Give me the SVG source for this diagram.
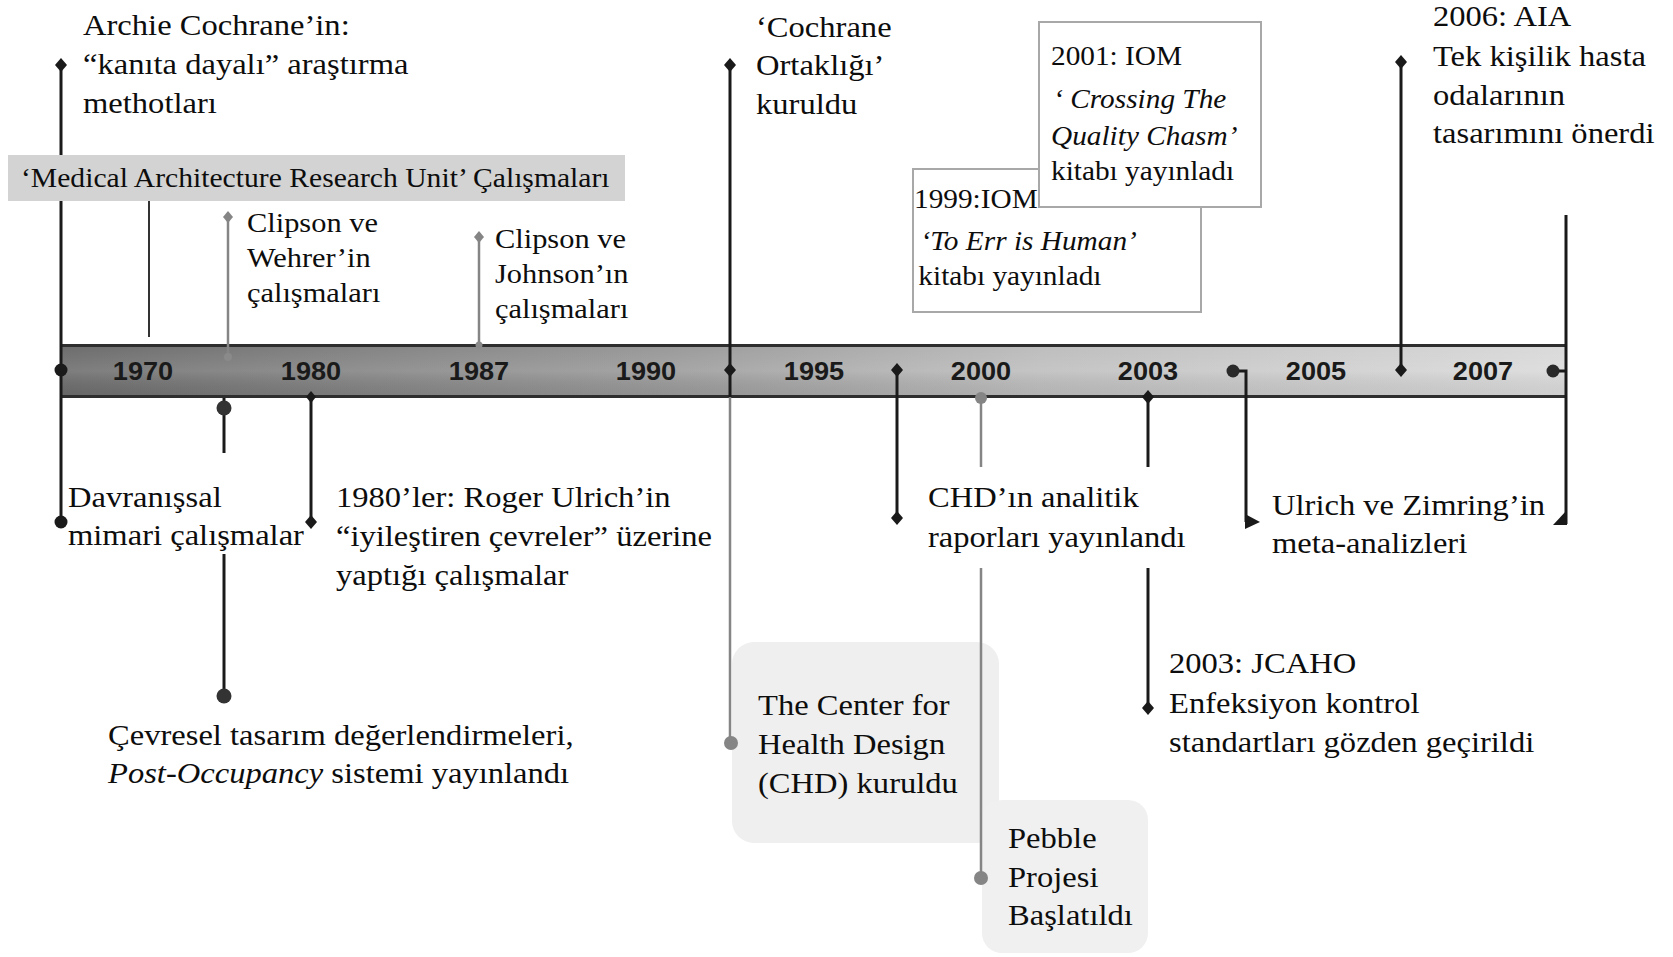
<svg xmlns="http://www.w3.org/2000/svg" width="1673" height="957" viewBox="0 0 1673 957">
<style>
.t{font-family:"Liberation Serif","Times New Roman",serif;font-size:30px;fill:#0d0d0d}
.s{font-size:28px}
.b{font-size:27px}
.m{font-size:27.3px}
.i{font-style:italic}
.yr{font-family:"Liberation Sans",Arial,sans-serif;font-weight:bold;font-size:25px;fill:#1a1a1a;text-anchor:middle}
.ln{fill:none;stroke:#1a1a1a;stroke-width:3}
.lg{fill:none;stroke:#858585;stroke-width:2.5}
.mk{fill:#1a1a1a}
.mg{fill:#858585}
</style>
<defs>
<linearGradient id="barg" x1="0" y1="0" x2="1" y2="0">
<stop offset="0" stop-color="#6c6c6c"/>
<stop offset="0.4" stop-color="#999"/>
<stop offset="0.65" stop-color="#bdbdbd"/>
<stop offset="1" stop-color="#dadada"/>
</linearGradient>
<linearGradient id="barv" x1="0" y1="0" x2="0" y2="1">
<stop offset="0" stop-color="#fff" stop-opacity="0"/>
<stop offset="0.5" stop-color="#fff" stop-opacity="0.12"/>
<stop offset="1" stop-color="#000" stop-opacity="0.05"/>
</linearGradient>
<path id="dia" d="M0,-7 L6,0 L0,7 L-6,0 Z"/>
<path id="dias" d="M0,-6 L5,0 L0,6 L-5,0 Z"/>
</defs>
<rect width="1673" height="957" fill="#fff"/>

<!-- background boxes -->
<g id="box-chd"><rect x="732" y="642" width="267" height="201" rx="22" fill="#efefef"/></g>
<g id="box-pebble"><rect x="982" y="800" width="166" height="153" rx="20" fill="#f0f0f0"/></g>

<!-- timeline bar -->
<g id="timeline">
<rect x="61" y="345" width="1505" height="52" fill="url(#barg)"/>
<rect x="61" y="345" width="1505" height="52" fill="url(#barv)"/>
<line x1="61" y1="345.5" x2="1566" y2="345.5" stroke="#2e2e2e" stroke-width="3"/>
<line x1="61" y1="396.5" x2="1566" y2="396.5" stroke="#2e2e2e" stroke-width="3"/>
<g transform="matrix(1.086 0 0 1 143 0)"><text class="yr" x="0" y="380">1970</text></g>
<g transform="matrix(1.086 0 0 1 311 0)"><text class="yr" x="0" y="380">1980</text></g>
<g transform="matrix(1.086 0 0 1 479 0)"><text class="yr" x="0" y="380">1987</text></g>
<g transform="matrix(1.086 0 0 1 646 0)"><text class="yr" x="0" y="380">1990</text></g>
<g transform="matrix(1.086 0 0 1 814 0)"><text class="yr" x="0" y="380">1995</text></g>
<g transform="matrix(1.086 0 0 1 981 0)"><text class="yr" x="0" y="380">2000</text></g>
<g transform="matrix(1.086 0 0 1 1148 0)"><text class="yr" x="0" y="380">2003</text></g>
<g transform="matrix(1.086 0 0 1 1316 0)"><text class="yr" x="0" y="380">2005</text></g>
<g transform="matrix(1.086 0 0 1 1483 0)"><text class="yr" x="0" y="380">2007</text></g>
</g>

<!-- connectors -->
<g id="connectors">
<line class="ln" x1="61" y1="65" x2="61" y2="522"/>
<use href="#dia" x="61" y="65" class="mk"/>
<circle cx="61" cy="370" r="6.5" class="mk"/>
<circle cx="61" cy="522" r="6.5" class="mk"/>

<line x1="149" y1="201" x2="149" y2="337" stroke="#333" stroke-width="2"/>

<line class="lg" x1="228" y1="217" x2="228" y2="357"/>
<use href="#dias" x="228" y="217" class="mg"/>
<circle cx="228" cy="357" r="4" fill="#8a8a8a"/>

<line class="lg" x1="479" y1="237" x2="479" y2="345"/>
<use href="#dias" x="479" y="237" class="mg"/>
<circle cx="479" cy="345" r="3.5" fill="#8a8a8a"/>

<line class="ln" x1="224" y1="398" x2="224" y2="453"/>
<line class="ln" x1="224" y1="554" x2="224" y2="696"/>
<circle cx="224" cy="408" r="7.5" fill="#333"/>
<circle cx="224" cy="696" r="7.5" fill="#333"/>

<line class="ln" x1="311" y1="397" x2="311" y2="522"/>
<use href="#dias" x="311" y="397" class="mk"/>
<use href="#dia" x="311" y="522" class="mk"/>

<line class="ln" x1="730" y1="65" x2="730" y2="397"/>
<line class="lg" x1="730" y1="397" x2="730" y2="743"/>
<use href="#dia" x="730" y="65" class="mk"/>
<use href="#dia" x="730" y="370" class="mk"/>
<circle cx="731" cy="743" r="7" class="mg"/>

<line class="ln" x1="897" y1="370" x2="897" y2="518"/>
<use href="#dia" x="897" y="370" class="mk"/>
<use href="#dia" x="897" y="518" class="mk"/>

<line class="lg" x1="981" y1="397" x2="981" y2="467"/>
<line class="lg" x1="981" y1="568" x2="981" y2="878"/>
<circle cx="981" cy="398" r="6" class="mg"/>
<circle cx="981" cy="878" r="7" class="mg"/>

<line class="ln" x1="1148" y1="397" x2="1148" y2="467"/>
<line class="ln" x1="1148" y1="568" x2="1148" y2="708"/>
<use href="#dia" x="1148" y="397" class="mk"/>
<use href="#dia" x="1148" y="708" class="mk"/>

<path class="ln" d="M1233,371 H1246 V522"/>
<circle cx="1233" cy="371" r="6.5" fill="#2a2a2a"/>
<polygon points="1245,514 1260,522 1245,529" class="mk"/>

<line class="ln" x1="1401" y1="62" x2="1401" y2="370"/>
<use href="#dia" x="1401" y="62" class="mk"/>
<use href="#dia" x="1401" y="370" class="mk"/>

<path class="ln" d="M1553,371 H1566"/>
<line class="ln" x1="1566" y1="215" x2="1566" y2="524"/>
<circle cx="1553" cy="371" r="6.5" fill="#2a2a2a"/>
<polygon points="1567,510 1567,525 1553,525" class="mk"/>
</g>

<!-- MARU box -->
<g id="maru">
<rect x="8" y="155" width="617" height="46" fill="#d3d3d3"/>
<text class="t m" transform="matrix(1.086 0 0 1 21 0)"><tspan x="0" y="187">‘Medical Architecture Research Unit’ Çalışmaları</tspan></text>
</g>

<!-- IOM boxes -->
<g id="iom1999">
<rect x="913" y="169" width="288" height="143" fill="#fff" stroke="#a8a8a8" stroke-width="2"/>
<text class="t b" transform="matrix(1.086 0 0 1 914 0)"><tspan x="0" y="208">1999:IOM</tspan><tspan x="6" y="250" class="i">‘To Err is Human’</tspan><tspan x="4" y="285">kitabı yayınladı</tspan></text>
</g>
<g id="iom2001">
<rect x="1039" y="22" width="222" height="185" fill="#fff" stroke="#a8a8a8" stroke-width="2"/>
<text class="t b" transform="matrix(1.086 0 0 1 1051 0)"><tspan x="0" y="65">2001: IOM</tspan><tspan x="2" y="108" class="i">‘ Crossing The</tspan><tspan x="0" y="145" class="i">Quality Chasm’</tspan><tspan x="0" y="180">kitabı yayınladı</tspan></text>
</g>

<!-- event labels -->
<g id="archie">
<text class="t" transform="matrix(1.086 0 0 1 83 0)"><tspan x="0" y="35">Archie Cochrane’in:</tspan><tspan x="0" y="74">“kanıta dayalı” araştırma</tspan><tspan x="0" y="113">methotları</tspan></text>
</g>
<g id="clipson-wehrer">
<text class="t s" transform="matrix(1.086 0 0 1 247 0)"><tspan x="0" y="232">Clipson ve</tspan><tspan x="0" y="267">Wehrer’in</tspan><tspan x="0" y="302">çalışmaları</tspan></text>
</g>
<g id="clipson-johnson">
<text class="t s" transform="matrix(1.086 0 0 1 495 0)"><tspan x="0" y="248">Clipson ve</tspan><tspan x="0" y="283">Johnson’ın</tspan><tspan x="0" y="318">çalışmaları</tspan></text>
</g>
<g id="cochrane">
<text class="t" transform="matrix(1.086 0 0 1 756 0)"><tspan x="0" y="37">‘Cochrane</tspan><tspan x="0" y="75">Ortaklığı’</tspan><tspan x="0" y="114">kuruldu</tspan></text>
</g>
<g id="aia">
<text class="t" transform="matrix(1.086 0 0 1 1433 0)"><tspan x="0" y="26">2006: AIA</tspan><tspan x="0" y="66">Tek kişilik hasta</tspan><tspan x="0" y="105">odalarının</tspan><tspan x="0" y="143">tasarımını önerdi</tspan></text>
</g>
<g id="davranissal">
<text class="t" transform="matrix(1.086 0 0 1 68 0)"><tspan x="0" y="507">Davranışsal</tspan><tspan x="0" y="545">mimari çalışmalar</tspan></text>
</g>
<g id="ulrich1980">
<text class="t" transform="matrix(1.086 0 0 1 336 0)"><tspan x="0" y="507">1980’ler: Roger Ulrich’in</tspan><tspan x="0" y="546">“iyileştiren çevreler” üzerine</tspan><tspan x="0" y="585">yaptığı çalışmalar</tspan></text>
</g>
<g id="cevresel">
<text class="t" transform="matrix(1.086 0 0 1 108 0)"><tspan x="0" y="745">Çevresel tasarım değerlendirmeleri,</tspan><tspan x="0" y="783"><tspan class="i">Post-Occupancy</tspan> sistemi yayınlandı</tspan></text>
</g>
<g id="chd-raporlar">
<text class="t" transform="matrix(1.086 0 0 1 928 0)"><tspan x="0" y="507">CHD’ın analitik</tspan><tspan x="0" y="547">raporları yayınlandı</tspan></text>
</g>
<g id="ulrich-zimring">
<text class="t" transform="matrix(1.086 0 0 1 1272 0)"><tspan x="0" y="515">Ulrich ve Zimring’in</tspan><tspan x="0" y="553">meta-analizleri</tspan></text>
</g>
<g id="jcaho">
<text class="t" transform="matrix(1.086 0 0 1 1169 0)"><tspan x="0" y="673">2003: JCAHO</tspan><tspan x="0" y="713">Enfeksiyon kontrol</tspan><tspan x="0" y="752">standartları gözden geçirildi</tspan></text>
</g>
<g id="chd">
<text class="t" transform="matrix(1.086 0 0 1 758 0)"><tspan x="0" y="715">The Center for</tspan><tspan x="0" y="754">Health Design</tspan><tspan x="0" y="793">(CHD) kuruldu</tspan></text>
</g>
<g id="pebble">
<text class="t" transform="matrix(1.086 0 0 1 1008 0)"><tspan x="0" y="848">Pebble</tspan><tspan x="0" y="887">Projesi</tspan><tspan x="0" y="925">Başlatıldı</tspan></text>
</g>
</svg>
